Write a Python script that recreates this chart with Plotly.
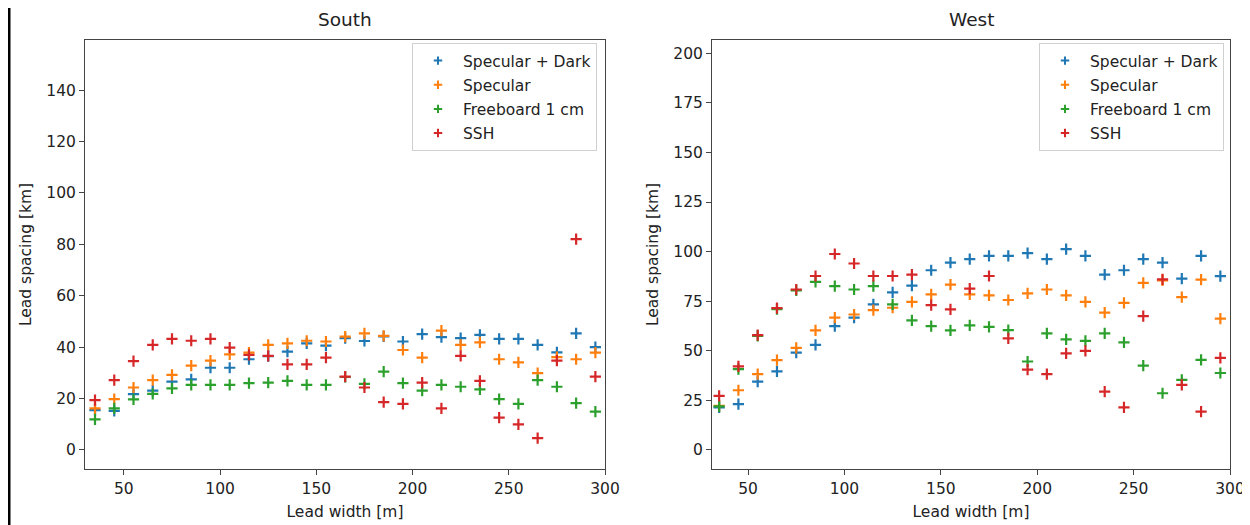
import plotly.graph_objects as go
from plotly.subplots import make_subplots

lead_width = [35, 45, 55, 65, 75, 85, 95, 105, 115, 125, 135, 145, 155, 165, 175,
              185, 195, 205, 215, 225, 235, 245, 255, 265, 275, 285, 295]

series_names = ["Specular + Dark", "Specular", "Freeboard 1 cm", "SSH"]
colors = ["#1f77b4", "#ff7f0e", "#2ca02c", "#d62728"]

south_spec_dark = [15.5, 15.2, 21.7, 23.1, 26.6, 27.5, 32.0, 32.0, 35.3, 36.5, 38.3, 41.5, 40.6, 43.5,
                   42.4, 44.2, 42.2, 45.1, 43.9, 43.5, 44.8, 43.2, 43.2, 40.9, 38.0, 45.4, 40.0]
south_specular = [16.2, 19.8, 24.3, 27.2, 29.2, 32.8, 34.8, 37.2, 37.9, 40.9, 41.5, 42.5, 42.2, 44.1,
                  45.4, 44.4, 38.9, 35.9, 46.4, 40.9, 41.9, 35.3, 34.1, 29.9, 36.1, 35.3, 37.9]
south_freeboard = [11.9, 16.2, 19.7, 21.8, 24.0, 25.3, 25.3, 25.3, 26.0, 26.2, 26.9, 25.3, 25.3, 28.4,
                   25.7, 30.5, 26.0, 23.1, 25.3, 24.6, 23.6, 19.8, 17.9, 27.2, 24.6, 18.2, 14.9]
south_ssh = [19.4, 27.2, 34.6, 40.9, 43.2, 42.5, 43.2, 39.8, 37.0, 36.6, 33.3, 33.3, 35.9, 28.5,
             24.3, 18.6, 17.9, 26.2, 16.2, 36.6, 26.9, 12.6, 10.0, 4.6, 34.8, 82.0, 28.5]

west_spec_dark = [21.5, 23.1, 34.5, 39.6, 49.1, 53.0, 62.4, 66.7, 73.4, 79.5, 82.9, 90.6, 94.5, 96.2,
                  97.9, 97.9, 99.2, 96.2, 101.3, 97.9, 88.4, 90.6, 96.2, 94.5, 86.4, 97.9, 87.6]
west_specular = [22.2, 30.1, 38.2, 45.3, 51.5, 60.3, 66.7, 68.3, 70.5, 71.7, 74.7, 78.4, 83.4, 78.4,
                 77.9, 75.6, 78.9, 80.9, 77.9, 74.7, 69.2, 74.2, 84.2, 85.5, 77.1, 85.9, 66.2]
west_freeboard = [22.0, 40.8, 57.5, 71.0, 80.5, 84.7, 82.6, 80.9, 82.6, 73.4, 65.3, 62.4, 60.3, 62.8,
                  62.1, 60.4, 44.6, 58.8, 55.8, 55.0, 58.8, 54.2, 42.5, 28.6, 35.3, 45.4, 38.8]
west_ssh = [27.3, 42.1, 57.9, 71.5, 80.9, 87.7, 98.8, 94.0, 87.7, 87.7, 88.4, 73.0, 70.9, 81.3,
            87.7, 56.3, 40.5, 38.2, 48.7, 50.0, 29.4, 21.5, 67.5, 86.0, 32.8, 19.3, 46.4]

panel_titles = ["South", "West"]
x_title = "Lead width [m]"
y_title = "Lead spacing [km]"

south = [south_spec_dark, south_specular, south_freeboard, south_ssh]
west = [west_spec_dark, west_specular, west_freeboard, west_ssh]

FONT = "DejaVu Sans"
TXT = "#222222"
FS = 15.5

fig = make_subplots(rows=1, cols=2, horizontal_spacing=0.09)

for col, (panel, leg) in enumerate([(south, "legend"), (west, "legend2")], start=1):
    for i, (name, vals) in enumerate(zip(series_names, panel)):
        fig.add_trace(go.Scatter(
            x=lead_width, y=vals, mode="markers", name=name,
            marker=dict(symbol="cross-thin", size=8, color=colors[i],
                        line=dict(width=2.2, color=colors[i])),
            legend=leg, legendgroup=f"{leg}{i}", showlegend=False,
        ), row=1, col=col)
    # legend entries with smaller symbols (as in the reference)
    for i, name in enumerate(series_names):
        fig.add_trace(go.Scatter(
            x=[None], y=[None], mode="markers", name=name,
            marker=dict(symbol="cross-thin", size=6, color=colors[i],
                        line=dict(width=2, color=colors[i])),
            legend=leg, legendgroup=f"{leg}{i}", showlegend=True,
        ), row=1, col=col)

# the page body has an 8px margin; margins below compensate so that the
# plot areas land at the reference screen positions
BODY = 8
W, H = 1250, 525
ml, mr, mt, mb = 85 - BODY, 20 + BODY, 40 - BODY, 56 + BODY
pw = W - ml - mr
ph = H - mt - mb
ox = BODY + ml          # screen x of paper x=0
oy_bot = BODY + mt + ph  # screen y of paper y=0


def px(sx):
    return (sx - ox) / pw


def py(sy):
    return (oy_bot - sy) / ph


x1 = [px(85), px(605)]
x2 = [px(712), px(1230)]

axis_common = dict(showline=True, linecolor="#444444", linewidth=1, mirror=True,
                   ticks="outside", ticklen=5, tickcolor="#444444", tickwidth=1,
                   showgrid=False, zeroline=False, automargin=False,
                   tickfont=dict(family=FONT, size=FS, color=TXT))

fig.update_xaxes(**axis_common)
fig.update_yaxes(**axis_common)

leg_common = dict(bgcolor="rgba(255,255,255,0.8)", bordercolor="#d0d0d0", borderwidth=1,
                  font=dict(family=FONT, size=FS, color=TXT), tracegroupgap=1,
                  traceorder="grouped", itemwidth=40, yanchor="top", xanchor="right",
                  y=py(43))

fig.update_layout(
    width=W, height=H,
    margin=dict(l=ml, r=mr, t=mt, b=mb, autoexpand=False),
    plot_bgcolor="white", paper_bgcolor="white",
    font=dict(family=FONT, size=FS, color=TXT),
    xaxis=dict(domain=x1, range=[29.8, 300], tickvals=[50, 100, 150, 200, 250, 300],
               title=dict(text=x_title, standoff=9, font=dict(size=FS))),
    xaxis2=dict(domain=x2, range=[31.3, 300], tickvals=[50, 100, 150, 200, 250, 300],
                title=dict(text=x_title, standoff=9, font=dict(size=FS))),
    yaxis=dict(range=[-7.4, 159.5], tickvals=[0, 20, 40, 60, 80, 100, 120, 140],
               title=dict(text=y_title, standoff=10, font=dict(size=FS))),
    yaxis2=dict(range=[-9.6, 206.7], tickvals=[0, 25, 50, 75, 100, 125, 150, 175, 200],
                title=dict(text=y_title, standoff=10, font=dict(size=FS))),
    legend=dict(x=px(597), **leg_common),
    legend2=dict(x=px(1224), **leg_common),
    showlegend=True,
)

for t, dom in zip(panel_titles, [x1, x2]):
    fig.add_annotation(text=t, xref="paper", yref="paper", x=(dom[0] + dom[1]) / 2,
                       y=py(32), yanchor="bottom", xanchor="center", showarrow=False,
                       font=dict(family=FONT, size=18.5, color=TXT))

# notebook cell border on the left
fig.add_shape(type="line", xref="paper", yref="paper",
              x0=px(9), x1=px(9), y0=py(530), y1=py(4),
              line=dict(color="black", width=3))

fig.write_html("out.html")
